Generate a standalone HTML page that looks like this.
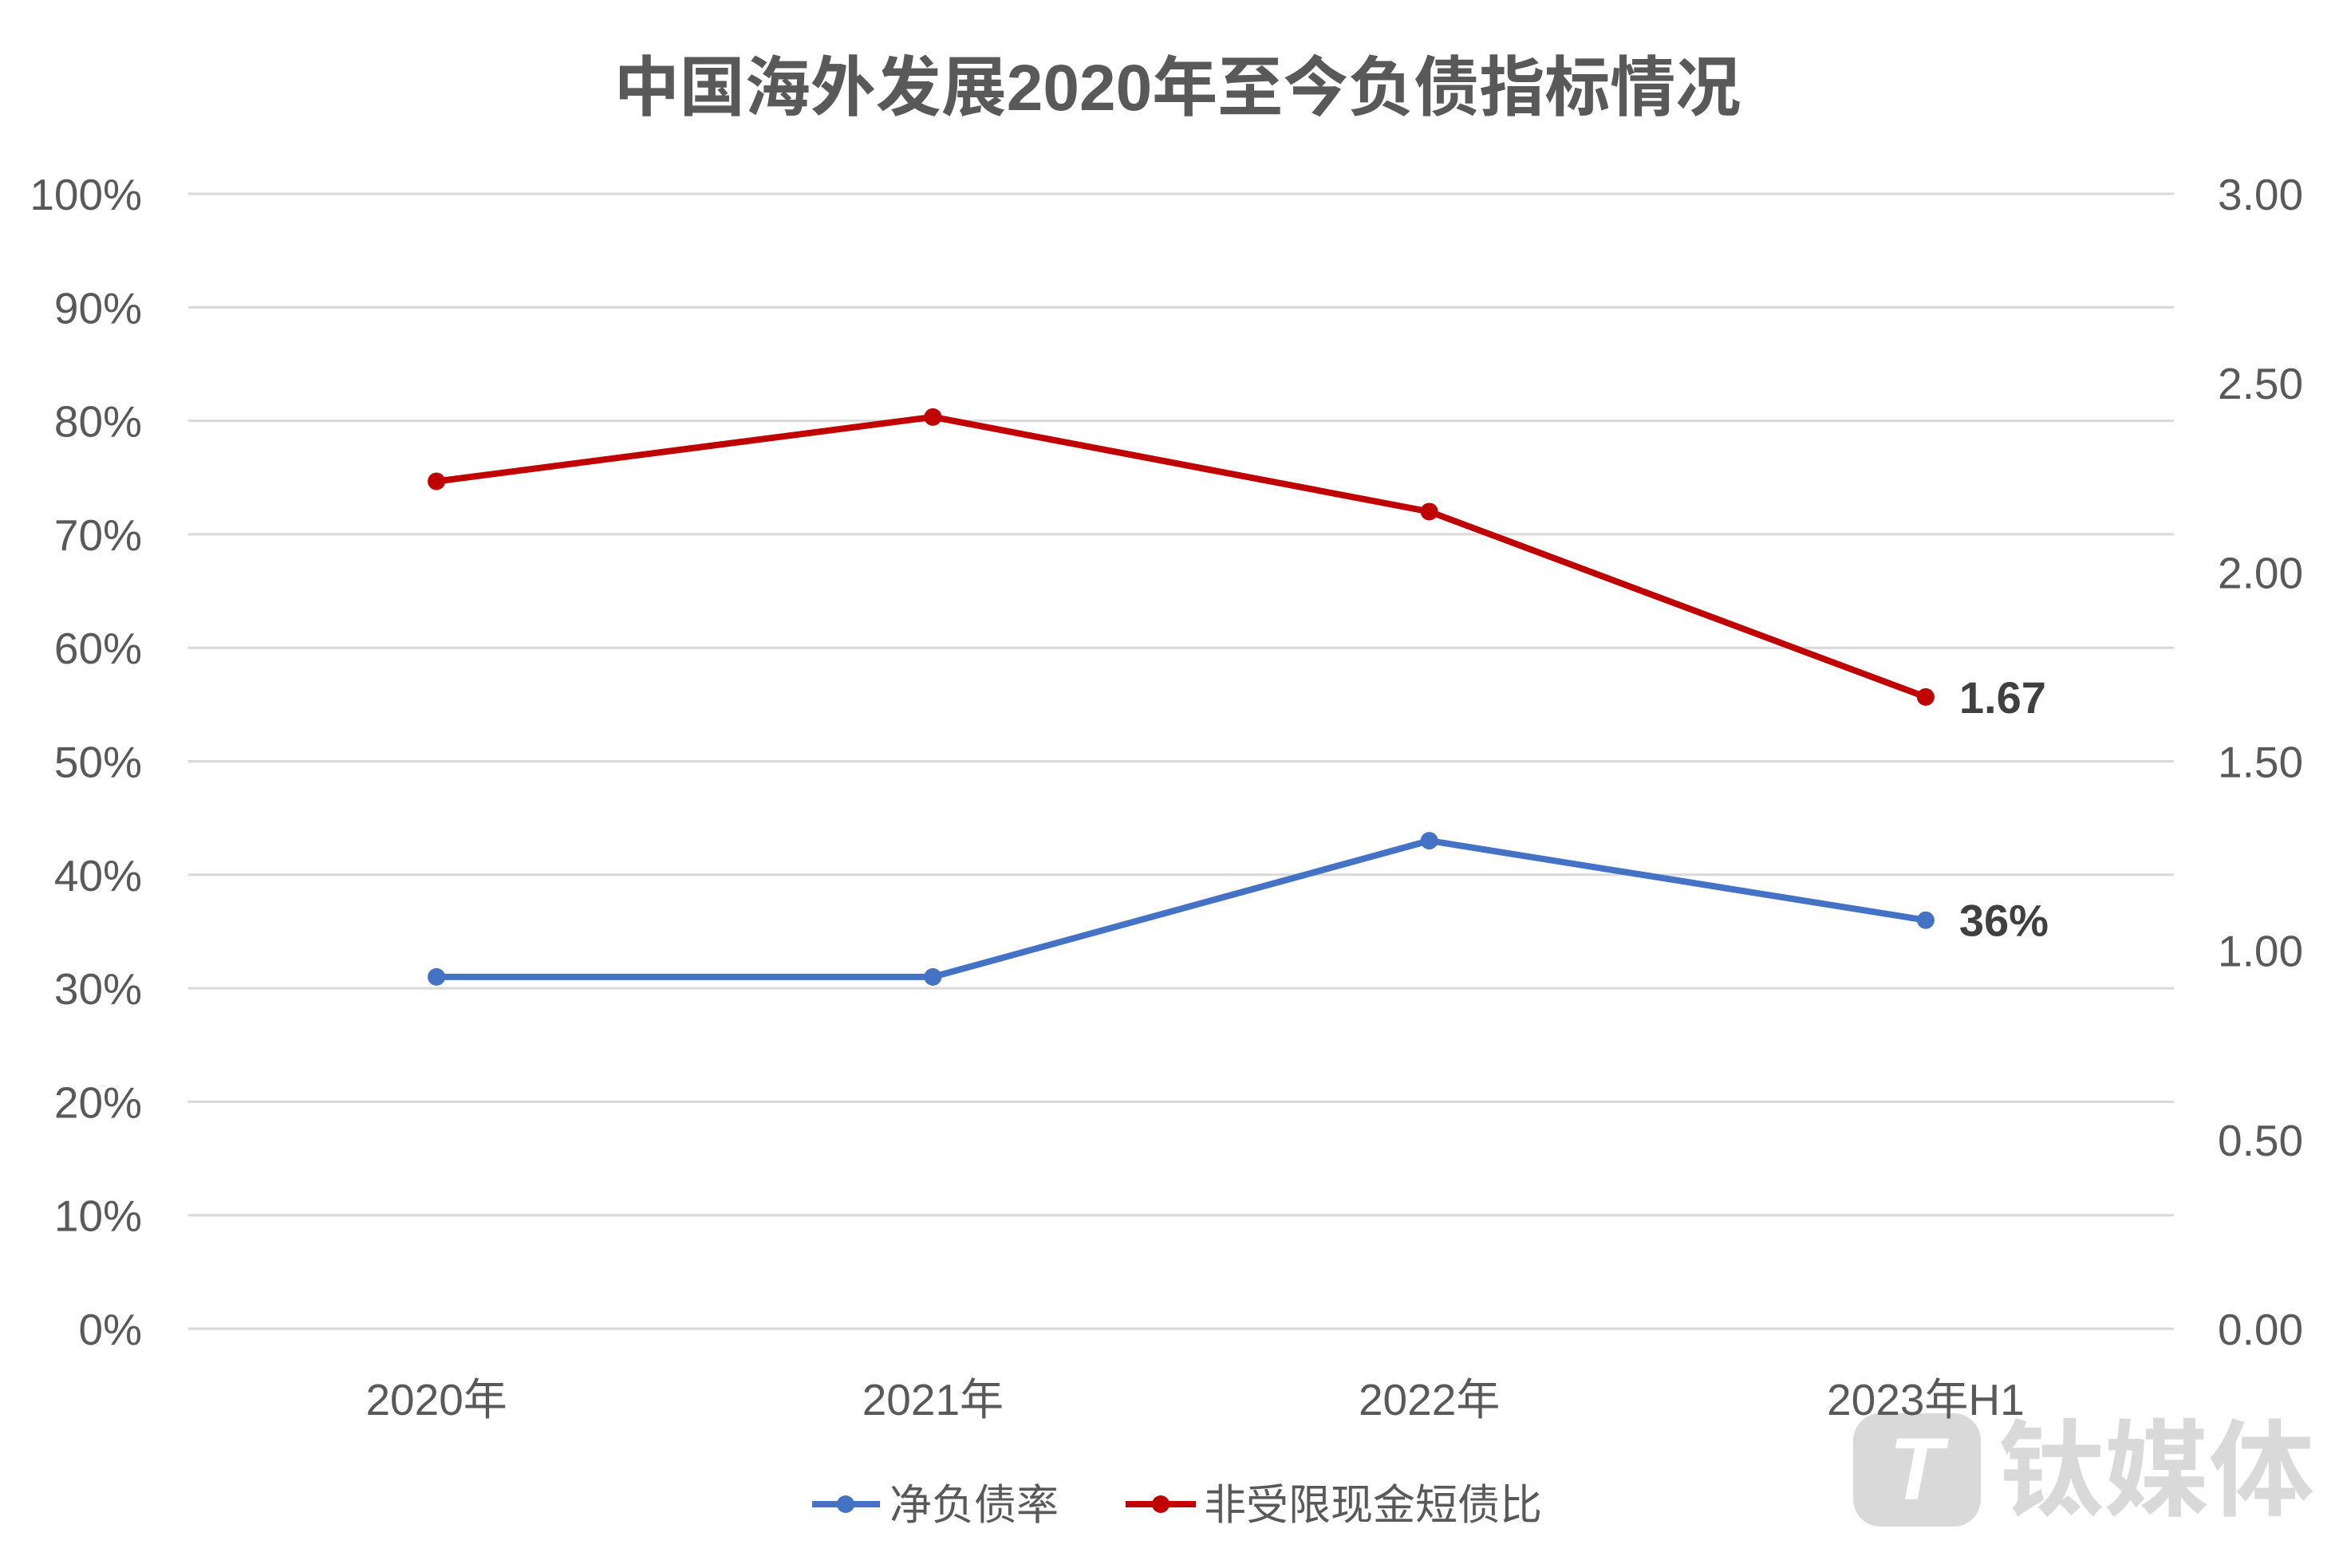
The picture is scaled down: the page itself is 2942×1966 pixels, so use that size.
<!DOCTYPE html>
<html><head><meta charset="utf-8"><style>
body{margin:0;background:#fff}
svg text{font-family:"Liberation Sans","Noto Sans CJK SC",sans-serif}
</style></head><body>
<svg width="2942" height="1961" viewBox="0 0 2942 1961" xmlns="http://www.w3.org/2000/svg">
<rect width="2942" height="1961" fill="#fff"/>
<text x="1476" y="138" font-size="82" font-weight="bold" fill="#595959" text-anchor="middle">中国海外发展2020年至今负债指标情况</text>
<g>
<rect x="2323" y="1772" width="160" height="142" rx="34" fill="#d9d9d9"/>
<text x="2368" y="1880" font-size="110" font-weight="bold" fill="#fff" font-style="italic">T</text>
<text x="2505" y="1890" font-size="132" font-weight="bold" fill="#d9d9d9">钛媒体</text>
</g>
<g id="grid"></g><g id="lines"></g>
<g>
<g>
<line x1="1018" y1="1886" x2="1103" y2="1886" stroke="#4472c4" stroke-width="8"/>
<circle cx="1060" cy="1886" r="11" fill="#4472c4"/>
<text x="1115" y="1905" font-size="53" fill="#595959">净负债率</text></g>
<g>
<line x1="1411" y1="1886" x2="1499" y2="1886" stroke="#c00000" stroke-width="8"/>
<circle cx="1455" cy="1886" r="11" fill="#c00000"/>
<text x="1509" y="1905" font-size="53" fill="#595959">非受限现金短债比</text></g>
</g>
</svg>
<script>
const categories=["2020年","2021年","2022年","2023年H1"];
const netDebt=[31,31,43,36];
const cashRatio=[2.24,2.41,2.16,1.67];
const leftTicks=[0,10,20,30,40,50,60,70,80,90,100];
const rightTicks=["0.00","0.50","1.00","1.50","2.00","2.50","3.00"];
const NS="http://www.w3.org/2000/svg";
const L=236,R=2725,T=243,B=1666;
const xS=i=>L+(R-L)/categories.length*(i+0.5);
const yL=v=>B-(B-T)*v/100;
const yR=v=>B-(B-T)*v/3;
function mk(t,a,p){const e=document.createElementNS(NS,t);for(const k in a)e.setAttribute(k,a[k]);p.appendChild(e);return e;}
const g=document.getElementById('grid'),ln=document.getElementById('lines');
leftTicks.forEach(v=>{
 const l=mk('line',{x1:L,x2:R,y1:yL(v),y2:yL(v),stroke:'#d9d9d9','stroke-width':3},g);
 
 
 const t=mk('text',{x:178,y:yL(v)+20,'font-size':55,fill:'#595959','text-anchor':'end'},g);
 t.textContent=v+'%';
 
 
});
rightTicks.forEach(s=>{
 const t=mk('text',{x:2780,y:yR(parseFloat(s))+20,'font-size':55,fill:'#595959'},g);
 t.textContent=s;
 
 
});
categories.forEach((c,i)=>{
 const t=mk('text',{x:xS(i),y:1774,'font-size':55,fill:'#595959','text-anchor':'middle'},g);
 t.textContent=c;
 
 
});
function series(vals,ys,color,name,lab){
 const p=mk('polyline',{points:vals.map((v,i)=>xS(i)+','+ys(v)).join(' '),fill:'none',stroke:color,'stroke-width':8,'stroke-linejoin':'round'},ln);
 
 
 vals.forEach((v,i)=>{
  const c=mk('circle',{cx:xS(i),cy:ys(v),r:11,fill:color},ln);
  
  
 });
 const n=vals.length-1;
 const t=mk('text',{x:xS(n)+42,y:ys(vals[n])+20,'font-size':56,'font-weight':'bold',fill:'#404040'},ln);
 t.textContent=lab(vals[n]);
 
 
}
series(netDebt,yL,'#4472c4','net-debt',v=>v+'%');
series(cashRatio,yR,'#c00000','cash-ratio',v=>v.toFixed(2));
</script>
</body></html>
